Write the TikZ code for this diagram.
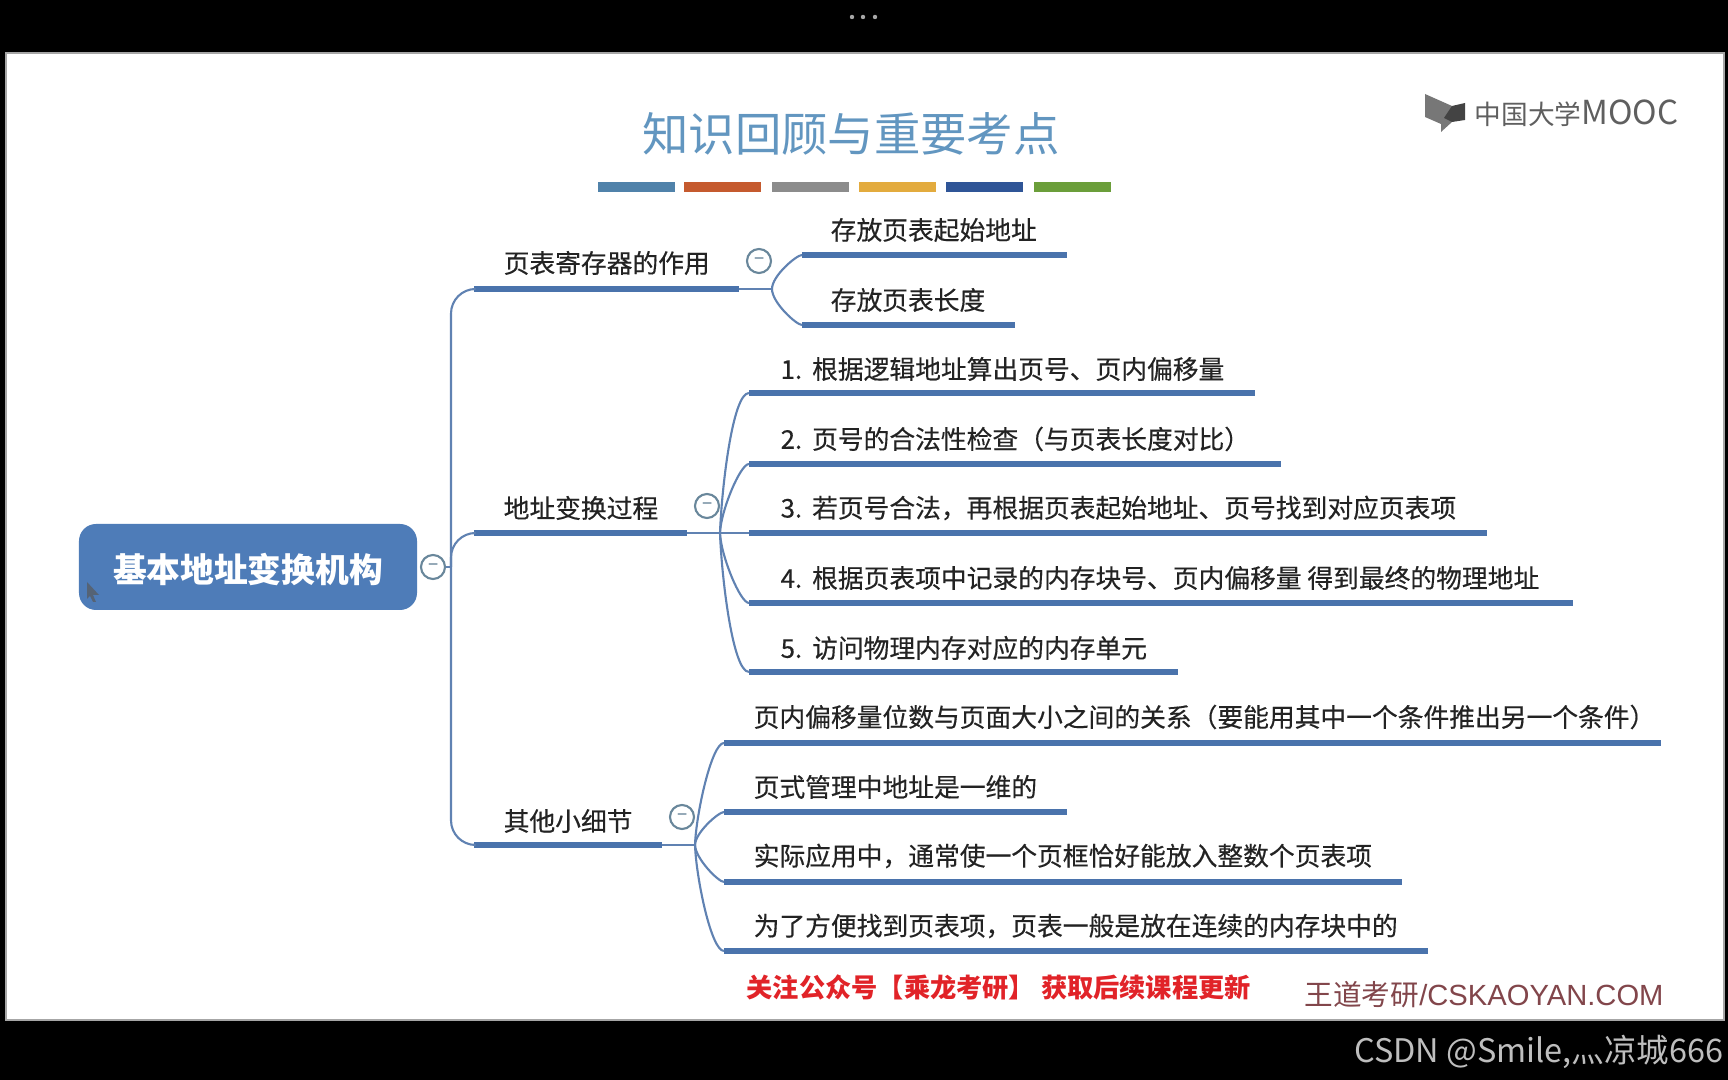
\documentclass[tikz,border=0pt]{standalone}
\usepackage{fontspec}
\usepackage{xcolor}
\usetikzlibrary{positioning, calc}
\setmainfont{Noto Sans CJK SC}
\newfontfamily\mapfont[FakeBold=0.35]{Noto Sans CJK SC}
\newfontfamily\latinfont{Liberation Sans}
\definecolor{mapblue}{RGB}{74,115,172}
\definecolor{linkblue}{RGB}{96,130,178}
\definecolor{rootblue}{RGB}{78,124,184}
\definecolor{foldgray}{RGB}{105,135,155}
\definecolor{titleblue}{RGB}{98,150,192}
\definecolor{logogray}{RGB}{95,95,95}
\definecolor{inkgray}{RGB}{35,35,35}

\begin{document}
\begin{tikzpicture}[
    rootbox/.style={fill=rootblue, rounded corners=0.17cm, minimum width=3.38cm,
                    minimum height=0.86cm, inner sep=0pt, text height=9pt, text depth=0pt,
                    font=\fontsize{9.6pt}{11pt}\selectfont\bfseries, text=white},
    bar/.style={fill=mapblue, anchor=west, minimum height=0.065cm, inner sep=0pt, outer sep=0pt},
    txt/.style={anchor=west, inner sep=0pt, text=inkgray, font=\mapfont\fontsize{7.33pt}{9pt}\selectfont},
    fold/.style={circle, draw=foldgray, fill=white, line width=0.6pt, minimum size=0.24cm,
                 inner sep=0pt, text=foldgray, font=\mapfont\fontsize{5pt}{5pt}\selectfont},
    link/.style={draw=linkblue, line width=0.6pt},
    flare/.style={in=180, in looseness=0.3, out looseness=0.75},
    chip/.style={minimum width=0.77cm, minimum height=0.10cm, inner sep=0pt}
  ]
    \useasboundingbox (0,0) rectangle (17.28,10.8);
    \fill[black] (0,0) rectangle (17.28,10.8);
    \filldraw[fill=white, draw=black!35, line width=0.4pt] (0.06,0.6) rectangle (17.24,10.27);

    % title and colour strip
    \node[font=\fontsize{13.2pt}{15pt}\selectfont, text=titleblue] (title) at (8.51,9.46) {知识回顾与重要考点};
    \node[chip, fill={rgb,255:red,80;green,130;blue,170}] (c1) at (6.36,8.93) {};
    \node[chip, fill={rgb,255:red,197;green,90;blue,46}] (c2) at (7.22,8.93) {};
    \node[chip, fill={rgb,255:red,140;green,140;blue,140}] (c3) at (8.10,8.93) {};
    \node[chip, fill={rgb,255:red,227;green,171;blue,62}] (c4) at (8.97,8.93) {};
    \node[chip, fill={rgb,255:red,47;green,85;blue,151}] (c5) at (9.84,8.93) {};
    \node[chip, fill={rgb,255:red,107;green,158;blue,58}] (c6) at (10.72,8.93) {};

    % logo
    \fill[logogray!85] (14.25,9.86) -- (14.52,9.74) -- (14.52,9.58) -- (14.41,9.48) -- (14.41,9.56) -- (14.25,9.63) -- cycle;
    \fill[logogray!70!black] (14.52,9.74) -- (14.65,9.77) -- (14.65,9.60) -- (14.52,9.58) -- (14.44,9.62) -- cycle;
    \node[anchor=west, inner sep=0pt, text=logogray, font=\fontsize{7.6pt}{9pt}\selectfont] (logo) at (14.74,9.67) {中国大学{\fontsize{9.4pt}{9pt}\selectfont MOOC}};

    % root
    \node[rootbox] (root) at (2.48,5.13) {基本地址变换机构};
    \fill[black!65, opacity=0.7] (0.87,4.98) -- (0.99,4.85) -- (0.93,4.85) -- (0.96,4.78) -- (0.93,4.78) -- (0.90,4.84) -- (0.87,4.81) -- cycle;
    \node[fold] (rootfold) at (4.33,5.13) {−};
    \coordinate (spine) at (4.51,5.13);

    % first level
    \node[bar, minimum width=2.65cm] (pa) at (4.74,7.91) {};
    \node[bar, minimum width=2.13cm] (pb) at (4.74,5.47) {};
    \node[bar, minimum width=1.88cm] (pc) at (4.74,2.35) {};
    \node[txt] (pat) at (5.03,8.17) {页表寄存器的作用};
    \node[txt] (pbt) at (5.03,5.72) {地址变换过程};
    \node[txt] (pct) at (5.03,2.59) {其他小细节};
    \node[fold] (fa) at (7.59,8.19) {−};
    \node[fold] (fb) at (7.07,5.74) {−};
    \node[fold] (fc) at (6.82,2.63) {−};

    % register leaves
    \node[bar, minimum width=2.65cm] (a1) at (8.02,8.25) {};
    \node[bar, minimum width=2.13cm] (a2) at (8.02,7.55) {};
    \node[txt] at (8.30,8.50) {存放页表起始地址};
    \node[txt] at (8.30,7.80) {存放页表长度};

    % process leaves
    \node[bar, minimum width=5.06cm] (b1) at (7.49,6.87) {};
    \node[bar, minimum width=5.32cm] (b2) at (7.49,6.16) {};
    \node[bar, minimum width=7.38cm] (b3) at (7.49,5.47) {};
    \node[bar, minimum width=8.24cm] (b4) at (7.49,4.77) {};
    \node[bar, minimum width=4.29cm] (b5) at (7.49,4.08) {};
    \node[txt] at (7.80,7.11) {1.\kern1.2pt~根据逻辑地址算出页号、页内偏移量};
    \node[txt] at (7.80,6.41) {2.\kern1.2pt~页号的合法性检查（与页表长度对比）};
    \node[txt] at (7.80,5.72) {3.\kern1.2pt~若页号合法，再根据页表起始地址、页号找到对应页表项};
    \node[txt] at (7.80,5.02) {4.\kern1.2pt~根据页表项中记录的内存块号、页内偏移量 得到最终的物理地址};
    \node[txt] at (7.80,4.32) {5.\kern1.2pt~访问物理内存对应的内存单元};

    % detail leaves
    \node[bar, minimum width=9.37cm] (d1) at (7.24,3.37) {};
    \node[bar, minimum width=3.43cm] (d2) at (7.24,2.68) {};
    \node[bar, minimum width=6.78cm] (d3) at (7.24,1.98) {};
    \node[bar, minimum width=7.04cm] (d4) at (7.24,1.29) {};
    \node[txt] at (7.53,3.63) {页内偏移量位数与页面大小之间的关系（要能用其中一个条件推出另一个条件）};
    \node[txt] at (7.53,2.93) {页式管理中地址是一维的};
    \node[txt] at (7.53,2.24) {实际应用中，通常使一个页框恰好能放入整数个页表项};
    \node[txt] at (7.53,1.54) {为了方便找到页表项，页表一般是放在连续的内存块中的};

    % connectors
    \draw[link] (rootfold) -- (spine);
    \draw[link, rounded corners=7pt] (pa.west) -| (spine);
    \draw[link, rounded corners=7pt] (pb.west) -| (spine);
    \draw[link, rounded corners=7pt] (pc.west) -| (spine);

    \coordinate (huba) at (7.72,7.91);
    \coordinate (hubb) at (7.20,5.47);
    \coordinate (hubc) at (6.95,2.35);
    \draw[link] (pa.east) -- (huba);
    \draw[link] (pb.east) -- (b3.west);
    \draw[link] (pc.east) -- (hubc);
    \draw[link] (huba) to[out=90, flare] (a1.west);
    \draw[link] (huba) to[out=-90, flare] (a2.west);
    \foreach \n in {b1,b2}
      \draw[link] (hubb) to[out=88, flare] (\n.west);
    \foreach \n in {b4,b5}
      \draw[link] (hubb) to[out=-88, flare] (\n.west);
    \foreach \n in {d1,d2}
      \draw[link] (hubc) to[out=88, flare] (\n.west);
    \foreach \n in {d3,d4}
      \draw[link] (hubc) to[out=-88, flare] (\n.west);

    % footer
    \node[anchor=west, inner sep=0pt, text={rgb,255:red,225;green,35;blue,40}, font=\fontsize{7.46pt}{9pt}\selectfont\bfseries] (ad) at (7.46,0.93) {关注公众号【乘龙考研】 获取后续课程更新};
    \node[anchor=west, inner sep=0pt, text={rgb,255:red,130;green,70;blue,75}, font=\fontsize{8.15pt}{9pt}\selectfont] (site) at (13.04,0.85) {王道考研{\latinfont\fontsize{8.3pt}{9pt}\selectfont /CSKAOYAN.COM}};
    \node[anchor=east, inner sep=0pt, text={rgb,255:red,190;green,190;blue,190}, font=\fontsize{9.24pt}{10pt}\selectfont] (csdn) at (17.24,0.28) {CSDN @Smile,灬凉城666};
    \foreach \x in {8.52,8.63,8.75}
      \fill[black!35] (\x,10.63) circle (0.022);
  \end{tikzpicture}
\end{document}
